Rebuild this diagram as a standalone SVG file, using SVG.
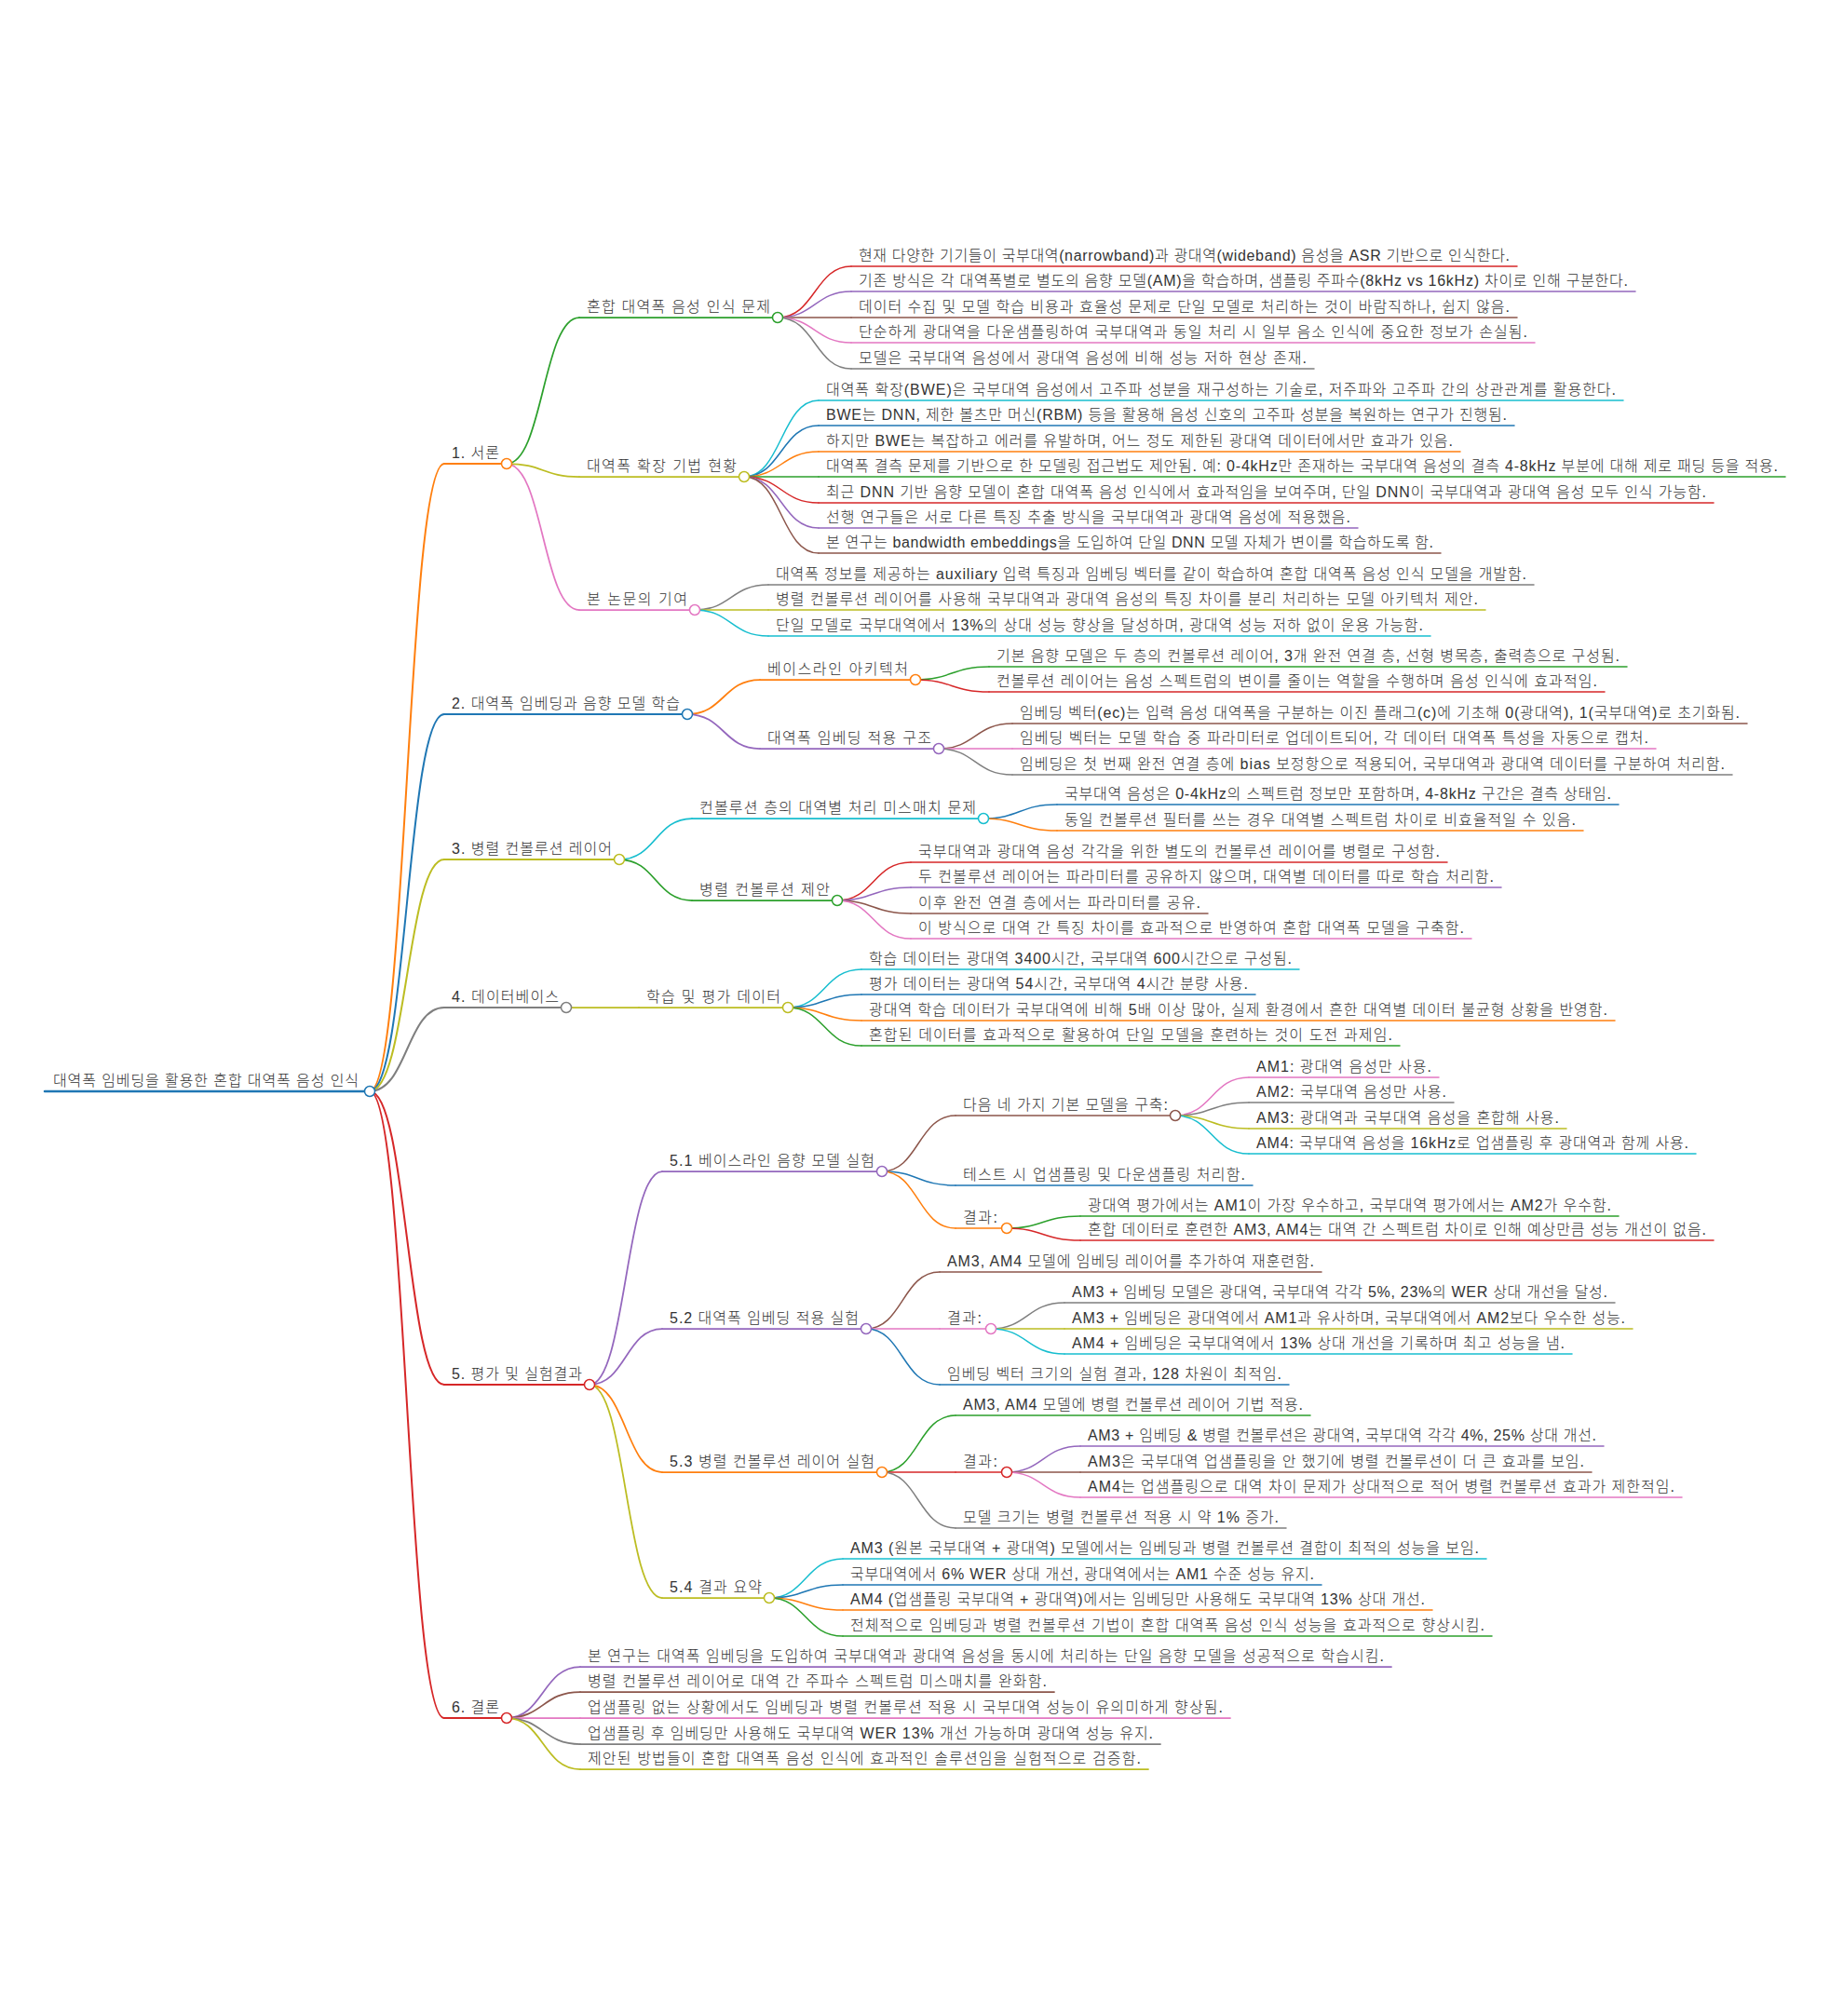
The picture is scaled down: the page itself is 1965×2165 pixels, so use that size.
<svg xmlns="http://www.w3.org/2000/svg" width="1965" height="2165" viewBox="0 0 1965 2165">
<style>
text{font-family:"Liberation Sans","Noto Sans CJK KR",sans-serif;font-size:16px;font-weight:300;fill:#333}
path{fill:none;stroke-linecap:round}
circle{fill:#fff;stroke-width:1.5}
.b{stroke:#1f77b4}.o{stroke:#ff7f0e}.g{stroke:#2ca02c}.r{stroke:#d62728}.p{stroke:#9467bd}
.br{stroke:#8c564b}.pk{stroke:#e377c2}.gy{stroke:#7f7f7f}.ol{stroke:#bcbd22}.cy{stroke:#17becf}
.w0{stroke-width:2.5}.w1{stroke-width:2}.w2{stroke-width:1.75}.w3{stroke-width:1.5}.w4{stroke-width:1.5}
</style>
<rect width="1965" height="2165" fill="#fff"/>
<g id="connectors">
<path class="o w1" d="M397,1172C437,1172 437,498 477,498"/>
<path class="b w1" d="M397,1172C437,1172 437,767 477,767"/>
<path class="ol w1" d="M397,1172C437,1172 437,923 477,923"/>
<path class="gy w1" d="M397,1172C437,1172 437,1082 477,1082"/>
<path class="r w1" d="M397,1172C437,1172 437,1487 477,1487"/>
<path class="r w1" d="M397,1172C437,1172 437,1845 477,1845"/>
<path class="g w2" d="M544,498C583,498 583,341 622,341"/>
<path class="ol w2" d="M544,498C583,498 583,512 622,512"/>
<path class="pk w2" d="M544,498C583,498 583,655 622,655"/>
<path class="r w3" d="M835,341C875,341 875,286 914,286"/>
<path class="p w3" d="M835,341C875,341 875,313 914,313"/>
<path class="br w3" d="M835,341C875,341 875,341 914,341"/>
<path class="pk w3" d="M835,341C875,341 875,368 914,368"/>
<path class="gy w3" d="M835,341C875,341 875,396 914,396"/>
<path class="cy w3" d="M799,512C839,512 839,430 879,430"/>
<path class="b w3" d="M799,512C839,512 839,457 879,457"/>
<path class="o w3" d="M799,512C839,512 839,485 879,485"/>
<path class="g w3" d="M799,512C839,512 839,512 879,512"/>
<path class="r w3" d="M799,512C839,512 839,540 879,540"/>
<path class="p w3" d="M799,512C839,512 839,567 879,567"/>
<path class="br w3" d="M799,512C839,512 839,594 879,594"/>
<path class="gy w3" d="M746,655C785,655 785,628 825,628"/>
<path class="ol w3" d="M746,655C785,655 785,655 825,655"/>
<path class="cy w3" d="M746,655C785,655 785,683 825,683"/>
<path class="o w2" d="M738,767C777,767 777,730 816,730"/>
<path class="p w2" d="M738,767C777,767 777,804 816,804"/>
<path class="g w3" d="M983,730C1022,730 1022,716 1062,716"/>
<path class="r w3" d="M983,730C1022,730 1022,743 1062,743"/>
<path class="br w3" d="M1008,804C1047,804 1047,777 1087,777"/>
<path class="pk w3" d="M1008,804C1047,804 1047,804 1087,804"/>
<path class="gy w3" d="M1008,804C1047,804 1047,832 1087,832"/>
<path class="cy w2" d="M665,923C704,923 704,879 743,879"/>
<path class="g w2" d="M665,923C704,923 704,967 743,967"/>
<path class="b w3" d="M1056,879C1095,879 1095,864 1135,864"/>
<path class="o w3" d="M1056,879C1095,879 1095,892 1135,892"/>
<path class="r w3" d="M899,967C938,967 938,926 978,926"/>
<path class="p w3" d="M899,967C938,967 938,953 978,953"/>
<path class="br w3" d="M899,967C938,967 938,981 978,981"/>
<path class="pk w3" d="M899,967C938,967 938,1008 978,1008"/>
<path class="ol w2" d="M608,1082C647,1082 647,1082 686,1082"/>
<path class="cy w3" d="M846,1082C885,1082 885,1041 925,1041"/>
<path class="b w3" d="M846,1082C885,1082 885,1068 925,1068"/>
<path class="o w3" d="M846,1082C885,1082 885,1096 925,1096"/>
<path class="g w3" d="M846,1082C885,1082 885,1123 925,1123"/>
<path class="p w2" d="M633,1487C672,1487 672,1258 711,1258"/>
<path class="p w2" d="M633,1487C672,1487 672,1427 711,1427"/>
<path class="o w2" d="M633,1487C672,1487 672,1581 711,1581"/>
<path class="ol w2" d="M633,1487C672,1487 672,1716 711,1716"/>
<path class="br w3" d="M947,1258C986,1258 986,1198 1026,1198"/>
<path class="b w3" d="M947,1258C986,1258 986,1273 1026,1273"/>
<path class="o w3" d="M947,1258C986,1258 986,1319 1026,1319"/>
<path class="pk w4" d="M1262,1198C1301,1198 1301,1157 1341,1157"/>
<path class="gy w4" d="M1262,1198C1301,1198 1301,1184 1341,1184"/>
<path class="ol w4" d="M1262,1198C1301,1198 1301,1212 1341,1212"/>
<path class="cy w4" d="M1262,1198C1301,1198 1301,1239 1341,1239"/>
<path class="g w4" d="M1081,1319C1120,1319 1120,1306 1160,1306"/>
<path class="r w4" d="M1081,1319C1120,1319 1120,1332 1160,1332"/>
<path class="br w3" d="M930,1427C969,1427 969,1366 1009,1366"/>
<path class="pk w3" d="M930,1427C969,1427 969,1427 1009,1427"/>
<path class="b w3" d="M930,1427C969,1427 969,1487 1009,1487"/>
<path class="gy w4" d="M1064,1427C1103,1427 1103,1399 1143,1399"/>
<path class="ol w4" d="M1064,1427C1103,1427 1103,1427 1143,1427"/>
<path class="cy w4" d="M1064,1427C1103,1427 1103,1454 1143,1454"/>
<path class="g w3" d="M947,1581C986,1581 986,1520 1026,1520"/>
<path class="r w3" d="M947,1581C986,1581 986,1581 1026,1581"/>
<path class="gy w3" d="M947,1581C986,1581 986,1641 1026,1641"/>
<path class="p w4" d="M1081,1581C1120,1581 1120,1553 1160,1553"/>
<path class="br w4" d="M1081,1581C1120,1581 1120,1581 1160,1581"/>
<path class="pk w4" d="M1081,1581C1120,1581 1120,1608 1160,1608"/>
<path class="cy w3" d="M826,1716C865,1716 865,1674 905,1674"/>
<path class="b w3" d="M826,1716C865,1716 865,1702 905,1702"/>
<path class="o w3" d="M826,1716C865,1716 865,1729 905,1729"/>
<path class="g w3" d="M826,1716C865,1716 865,1757 905,1757"/>
<path class="p w2" d="M544,1845C583,1845 583,1790 623,1790"/>
<path class="br w2" d="M544,1845C583,1845 583,1817 623,1817"/>
<path class="pk w2" d="M544,1845C583,1845 583,1845 623,1845"/>
<path class="gy w2" d="M544,1845C583,1845 583,1873 623,1873"/>
<path class="ol w2" d="M544,1845C583,1845 583,1900 623,1900"/>
</g>

<g id="root"><path class="b w0" d="M48,1172H397"/><circle class="b" cx="397" cy="1172" r="5.5"/><text x="57" y="1166" textLength="328">대역폭 임베딩을 활용한 혼합 대역폭 음성 인식</text></g>

<g id="s1"><path class="o w1" d="M477,498H544"/><circle class="o" cx="544" cy="498" r="5.5"/><text x="485" y="492" textLength="51">1. 서론</text></g>
<g id="s1-1"><path class="g w2" d="M622,341H835"/><circle class="g" cx="835" cy="341" r="5.5"/><text x="630" y="335" textLength="197">혼합 대역폭 음성 인식 문제</text></g>
<g id="s1-1-1"><path class="r w3" d="M914,286H1629"/><text x="922" y="280" textLength="699">현재 다양한 기기들이 국부대역(narrowband)과 광대역(wideband) 음성을 ASR 기반으로 인식한다.</text></g>
<g id="s1-1-2"><path class="p w3" d="M914,313H1756"/><text x="922" y="307" textLength="826">기존 방식은 각 대역폭별로 별도의 음향 모델(AM)을 학습하며, 샘플링 주파수(8kHz vs 16kHz) 차이로 인해 구분한다.</text></g>
<g id="s1-1-3"><path class="br w3" d="M914,341H1629"/><text x="922" y="335" textLength="699">데이터 수집 및 모델 학습 비용과 효율성 문제로 단일 모델로 처리하는 것이 바람직하나, 쉽지 않음.</text></g>
<g id="s1-1-4"><path class="pk w3" d="M914,368H1648"/><text x="922" y="362" textLength="718">단순하게 광대역을 다운샘플링하여 국부대역과 동일 처리 시 일부 음소 인식에 중요한 정보가 손실됨.</text></g>
<g id="s1-1-5"><path class="gy w3" d="M914,396H1411"/><text x="922" y="390" textLength="481">모델은 국부대역 음성에서 광대역 음성에 비해 성능 저하 현상 존재.</text></g>
<g id="s1-2"><path class="ol w2" d="M622,512H799"/><circle class="ol" cx="799" cy="512" r="5.5"/><text x="630" y="506" textLength="161">대역폭 확장 기법 현황</text></g>
<g id="s1-2-1"><path class="cy w3" d="M879,430H1743"/><text x="887" y="424" textLength="848">대역폭 확장(BWE)은 국부대역 음성에서 고주파 성분을 재구성하는 기술로, 저주파와 고주파 간의 상관관계를 활용한다.</text></g>
<g id="s1-2-2"><path class="b w3" d="M879,457H1626"/><text x="887" y="451" textLength="731">BWE는 DNN, 제한 볼츠만 머신(RBM) 등을 활용해 음성 신호의 고주파 성분을 복원하는 연구가 진행됨.</text></g>
<g id="s1-2-3"><path class="o w3" d="M879,485H1568"/><text x="887" y="479" textLength="673">하지만 BWE는 복잡하고 에러를 유발하며, 어느 정도 제한된 광대역 데이터에서만 효과가 있음.</text></g>
<g id="s1-2-4"><path class="g w3" d="M879,512H1917"/><text x="887" y="506" textLength="1022">대역폭 결측 문제를 기반으로 한 모델링 접근법도 제안됨. 예: 0-4kHz만 존재하는 국부대역 음성의 결측 4-8kHz 부분에 대해 제로 패딩 등을 적용.</text></g>
<g id="s1-2-5"><path class="r w3" d="M879,540H1840"/><text x="887" y="534" textLength="945">최근 DNN 기반 음향 모델이 혼합 대역폭 음성 인식에서 효과적임을 보여주며, 단일 DNN이 국부대역과 광대역 음성 모두 인식 가능함.</text></g>
<g id="s1-2-6"><path class="p w3" d="M879,567H1458"/><text x="887" y="561" textLength="563">선행 연구들은 서로 다른 특징 추출 방식을 국부대역과 광대역 음성에 적용했음.</text></g>
<g id="s1-2-7"><path class="br w3" d="M879,594H1547"/><text x="887" y="588" textLength="652">본 연구는 bandwidth embeddings을 도입하여 단일 DNN 모델 자체가 변이를 학습하도록 함.</text></g>
<g id="s1-3"><path class="pk w2" d="M622,655H746"/><circle class="pk" cx="746" cy="655" r="5.5"/><text x="630" y="649" textLength="108">본 논문의 기여</text></g>
<g id="s1-3-1"><path class="gy w3" d="M825,628H1647"/><text x="833" y="622" textLength="806">대역폭 정보를 제공하는 auxiliary 입력 특징과 임베딩 벡터를 같이 학습하여 혼합 대역폭 음성 인식 모델을 개발함.</text></g>
<g id="s1-3-2"><path class="ol w3" d="M825,655H1595"/><text x="833" y="649" textLength="754">병렬 컨볼루션 레이어를 사용해 국부대역과 광대역 음성의 특징 차이를 분리 처리하는 모델 아키텍처 제안.</text></g>
<g id="s1-3-3"><path class="cy w3" d="M825,683H1536"/><text x="833" y="677" textLength="695">단일 모델로 국부대역에서 13%의 상대 성능 향상을 달성하며, 광대역 성능 저하 없이 운용 가능함.</text></g>

<g id="s2"><path class="b w1" d="M477,767H738"/><circle class="b" cx="738" cy="767" r="5.5"/><text x="485" y="761" textLength="245">2. 대역폭 임베딩과 음향 모델 학습</text></g>
<g id="s2-1"><path class="o w2" d="M816,730H983"/><circle class="o" cx="983" cy="730" r="5.5"/><text x="824" y="724" textLength="151">베이스라인 아키텍처</text></g>
<g id="s2-1-1"><path class="g w3" d="M1062,716H1747"/><text x="1070" y="710" textLength="669">기본 음향 모델은 두 층의 컨볼루션 레이어, 3개 완전 연결 층, 선형 병목층, 출력층으로 구성됨.</text></g>
<g id="s2-1-2"><path class="r w3" d="M1062,743H1723"/><text x="1070" y="737" textLength="645">컨볼루션 레이어는 음성 스펙트럼의 변이를 줄이는 역할을 수행하며 음성 인식에 효과적임.</text></g>
<g id="s2-2"><path class="p w2" d="M816,804H1008"/><circle class="p" cx="1008" cy="804" r="5.5"/><text x="824" y="798" textLength="176">대역폭 임베딩 적용 구조</text></g>
<g id="s2-2-1"><path class="br w3" d="M1087,777H1876"/><text x="1095" y="771" textLength="773">임베딩 벡터(ec)는 입력 음성 대역폭을 구분하는 이진 플래그(c)에 기초해 0(광대역), 1(국부대역)로 초기화됨.</text></g>
<g id="s2-2-2"><path class="pk w3" d="M1087,804H1778"/><text x="1095" y="798" textLength="675">임베딩 벡터는 모델 학습 중 파라미터로 업데이트되어, 각 데이터 대역폭 특성을 자동으로 캡처.</text></g>
<g id="s2-2-3"><path class="gy w3" d="M1087,832H1860"/><text x="1095" y="826" textLength="757">임베딩은 첫 번째 완전 연결 층에 bias 보정항으로 적용되어, 국부대역과 광대역 데이터를 구분하여 처리함.</text></g>

<g id="s3"><path class="ol w1" d="M477,923H665"/><circle class="ol" cx="665" cy="923" r="5.5"/><text x="485" y="917" textLength="172">3. 병렬 컨볼루션 레이어</text></g>
<g id="s3-1"><path class="cy w2" d="M743,879H1056"/><circle class="cy" cx="1056" cy="879" r="5.5"/><text x="751" y="873" textLength="297">컨볼루션 층의 대역별 처리 미스매치 문제</text></g>
<g id="s3-1-1"><path class="b w3" d="M1135,864H1738"/><text x="1143" y="858" textLength="587">국부대역 음성은 0-4kHz의 스펙트럼 정보만 포함하며, 4-8kHz 구간은 결측 상태임.</text></g>
<g id="s3-1-2"><path class="o w3" d="M1135,892H1700"/><text x="1143" y="886" textLength="549">동일 컨볼루션 필터를 쓰는 경우 대역별 스펙트럼 차이로 비효율적일 수 있음.</text></g>
<g id="s3-2"><path class="g w2" d="M743,967H899"/><circle class="g" cx="899" cy="967" r="5.5"/><text x="751" y="961" textLength="140">병렬 컨볼루션 제안</text></g>
<g id="s3-2-1"><path class="r w3" d="M978,926H1554"/><text x="986" y="920" textLength="560">국부대역과 광대역 음성 각각을 위한 별도의 컨볼루션 레이어를 병렬로 구성함.</text></g>
<g id="s3-2-2"><path class="p w3" d="M978,953H1612"/><text x="986" y="947" textLength="618">두 컨볼루션 레이어는 파라미터를 공유하지 않으며, 대역별 데이터를 따로 학습 처리함.</text></g>
<g id="s3-2-3"><path class="br w3" d="M978,981H1297"/><text x="986" y="975" textLength="303">이후 완전 연결 층에서는 파라미터를 공유.</text></g>
<g id="s3-2-4"><path class="pk w3" d="M978,1008H1580"/><text x="986" y="1002" textLength="586">이 방식으로 대역 간 특징 차이를 효과적으로 반영하여 혼합 대역폭 모델을 구축함.</text></g>

<g id="s4"><path class="gy w1" d="M477,1082H608"/><circle class="gy" cx="608" cy="1082" r="5.5"/><text x="485" y="1076" textLength="115">4. 데이터베이스</text></g>
<g id="s4-1"><path class="ol w2" d="M686,1082H846"/><circle class="ol" cx="846" cy="1082" r="5.5"/><text x="694" y="1076" textLength="144">학습 및 평가 데이터</text></g>
<g id="s4-1-1"><path class="cy w3" d="M925,1041H1395"/><text x="933" y="1035" textLength="454">학습 데이터는 광대역 3400시간, 국부대역 600시간으로 구성됨.</text></g>
<g id="s4-1-2"><path class="b w3" d="M925,1068H1348"/><text x="933" y="1062" textLength="407">평가 데이터는 광대역 54시간, 국부대역 4시간 분량 사용.</text></g>
<g id="s4-1-3"><path class="o w3" d="M925,1096H1734"/><text x="933" y="1090" textLength="793">광대역 학습 데이터가 국부대역에 비해 5배 이상 많아, 실제 환경에서 흔한 대역별 데이터 불균형 상황을 반영함.</text></g>
<g id="s4-1-4"><path class="g w3" d="M925,1123H1503"/><text x="933" y="1117" textLength="562">혼합된 데이터를 효과적으로 활용하여 단일 모델을 훈련하는 것이 도전 과제임.</text></g>

<g id="s5"><path class="r w1" d="M477,1487H633"/><circle class="r" cx="633" cy="1487" r="5.5"/><text x="485" y="1481" textLength="140">5. 평가 및 실험결과</text></g>
<g id="s5-1"><path class="p w2" d="M711,1258H947"/><circle class="p" cx="947" cy="1258" r="5.5"/><text x="719" y="1252" textLength="220">5.1 베이스라인 음향 모델 실험</text></g>
<g id="s5-1-1"><path class="br w3" d="M1026,1198H1262"/><circle class="br" cx="1262" cy="1198" r="5.5"/><text x="1034" y="1192" textLength="220">다음 네 가지 기본 모델을 구축:</text></g>
<g id="s5-1-1-1"><path class="pk w4" d="M1341,1157H1545"/><text x="1349" y="1151" textLength="188">AM1: 광대역 음성만 사용.</text></g>
<g id="s5-1-1-2"><path class="gy w4" d="M1341,1184H1561"/><text x="1349" y="1178" textLength="204">AM2: 국부대역 음성만 사용.</text></g>
<g id="s5-1-1-3"><path class="ol w4" d="M1341,1212H1682"/><text x="1349" y="1206" textLength="325">AM3: 광대역과 국부대역 음성을 혼합해 사용.</text></g>
<g id="s5-1-1-4"><path class="cy w4" d="M1341,1239H1821"/><text x="1349" y="1233" textLength="464">AM4: 국부대역 음성을 16kHz로 업샘플링 후 광대역과 함께 사용.</text></g>
<g id="s5-1-2"><path class="b w3" d="M1026,1273H1345"/><text x="1034" y="1267" textLength="303">테스트 시 업샘플링 및 다운샘플링 처리함.</text></g>
<g id="s5-1-3"><path class="o w3" d="M1026,1319H1081"/><circle class="o" cx="1081" cy="1319" r="5.5"/><text x="1034" y="1313" textLength="37">결과:</text></g>
<g id="s5-1-3-1"><path class="g w4" d="M1160,1306H1738"/><text x="1168" y="1300" textLength="562">광대역 평가에서는 AM1이 가장 우수하고, 국부대역 평가에서는 AM2가 우수함.</text></g>
<g id="s5-1-3-2"><path class="r w4" d="M1160,1332H1840"/><text x="1168" y="1326" textLength="664">혼합 데이터로 훈련한 AM3, AM4는 대역 간 스펙트럼 차이로 인해 예상만큼 성능 개선이 없음.</text></g>
<g id="s5-2"><path class="p w2" d="M711,1427H930"/><circle class="p" cx="930" cy="1427" r="5.5"/><text x="719" y="1421" textLength="203">5.2 대역폭 임베딩 적용 실험</text></g>
<g id="s5-2-1"><path class="br w3" d="M1009,1366H1419"/><text x="1017" y="1360" textLength="394">AM3, AM4 모델에 임베딩 레이어를 추가하여 재훈련함.</text></g>
<g id="s5-2-2"><path class="pk w3" d="M1009,1427H1064"/><circle class="pk" cx="1064" cy="1427" r="5.5"/><text x="1017" y="1421" textLength="37">결과:</text></g>
<g id="s5-2-2-1"><path class="gy w4" d="M1143,1399H1734"/><text x="1151" y="1393" textLength="575">AM3 + 임베딩 모델은 광대역, 국부대역 각각 5%, 23%의 WER 상대 개선을 달성.</text></g>
<g id="s5-2-2-2"><path class="ol w4" d="M1143,1427H1753"/><text x="1151" y="1421" textLength="594">AM3 + 임베딩은 광대역에서 AM1과 유사하며, 국부대역에서 AM2보다 우수한 성능.</text></g>
<g id="s5-2-2-3"><path class="cy w4" d="M1143,1454H1688"/><text x="1151" y="1448" textLength="529">AM4 + 임베딩은 국부대역에서 13% 상대 개선을 기록하며 최고 성능을 냄.</text></g>
<g id="s5-2-3"><path class="b w3" d="M1009,1487H1384"/><text x="1017" y="1481" textLength="359">임베딩 벡터 크기의 실험 결과, 128 차원이 최적임.</text></g>
<g id="s5-3"><path class="o w2" d="M711,1581H947"/><circle class="o" cx="947" cy="1581" r="5.5"/><text x="719" y="1575" textLength="220">5.3 병렬 컨볼루션 레이어 실험</text></g>
<g id="s5-3-1"><path class="g w3" d="M1026,1520H1407"/><text x="1034" y="1514" textLength="365">AM3, AM4 모델에 병렬 컨볼루션 레이어 기법 적용.</text></g>
<g id="s5-3-2"><path class="r w3" d="M1026,1581H1081"/><circle class="r" cx="1081" cy="1581" r="5.5"/><text x="1034" y="1575" textLength="37">결과:</text></g>
<g id="s5-3-2-1"><path class="p w4" d="M1160,1553H1722"/><text x="1168" y="1547" textLength="546">AM3 + 임베딩 &amp; 병렬 컨볼루션은 광대역, 국부대역 각각 4%, 25% 상대 개선.</text></g>
<g id="s5-3-2-2"><path class="br w4" d="M1160,1581H1709"/><text x="1168" y="1575" textLength="533">AM3은 국부대역 업샘플링을 안 했기에 병렬 컨볼루션이 더 큰 효과를 보임.</text></g>
<g id="s5-3-2-3"><path class="pk w4" d="M1160,1608H1806"/><text x="1168" y="1602" textLength="630">AM4는 업샘플링으로 대역 차이 문제가 상대적으로 적어 병렬 컨볼루션 효과가 제한적임.</text></g>
<g id="s5-3-3"><path class="gy w3" d="M1026,1641H1381"/><text x="1034" y="1635" textLength="339">모델 크기는 병렬 컨볼루션 적용 시 약 1% 증가.</text></g>
<g id="s5-4"><path class="ol w2" d="M711,1716H826"/><circle class="ol" cx="826" cy="1716" r="5.5"/><text x="719" y="1710" textLength="99">5.4 결과 요약</text></g>
<g id="s5-4-1"><path class="cy w3" d="M905,1674H1596"/><text x="913" y="1668" textLength="675">AM3 (원본 국부대역 + 광대역) 모델에서는 임베딩과 병렬 컨볼루션 결합이 최적의 성능을 보임.</text></g>
<g id="s5-4-2"><path class="b w3" d="M905,1702H1419"/><text x="913" y="1696" textLength="498">국부대역에서 6% WER 상대 개선, 광대역에서는 AM1 수준 성능 유지.</text></g>
<g id="s5-4-3"><path class="o w3" d="M905,1729H1538"/><text x="913" y="1723" textLength="617">AM4 (업샘플링 국부대역 + 광대역)에서는 임베딩만 사용해도 국부대역 13% 상대 개선.</text></g>
<g id="s5-4-4"><path class="g w3" d="M905,1757H1602"/><text x="913" y="1751" textLength="681">전체적으로 임베딩과 병렬 컨볼루션 기법이 혼합 대역폭 음성 인식 성능을 효과적으로 향상시킴.</text></g>

<g id="s6"><path class="r w1" d="M477,1845H544"/><circle class="r" cx="544" cy="1845" r="5.5"/><text x="485" y="1839" textLength="51">6. 결론</text></g>
<g id="s6-1"><path class="p w2" d="M623,1790H1494"/><text x="631" y="1784" textLength="855">본 연구는 대역폭 임베딩을 도입하여 국부대역과 광대역 음성을 동시에 처리하는 단일 음향 모델을 성공적으로 학습시킴.</text></g>
<g id="s6-2"><path class="br w2" d="M623,1817H1132"/><text x="631" y="1811" textLength="493">병렬 컨볼루션 레이어로 대역 간 주파수 스펙트럼 미스매치를 완화함.</text></g>
<g id="s6-3"><path class="pk w2" d="M623,1845H1321"/><text x="631" y="1839" textLength="682">업샘플링 없는 상황에서도 임베딩과 병렬 컨볼루션 적용 시 국부대역 성능이 유의미하게 향상됨.</text></g>
<g id="s6-4"><path class="gy w2" d="M623,1873H1246"/><text x="631" y="1867" textLength="607">업샘플링 후 임베딩만 사용해도 국부대역 WER 13% 개선 가능하며 광대역 성능 유지.</text></g>
<g id="s6-5"><path class="ol w2" d="M623,1900H1233"/><text x="631" y="1894" textLength="594">제안된 방법들이 혼합 대역폭 음성 인식에 효과적인 솔루션임을 실험적으로 검증함.</text></g>
</svg>
